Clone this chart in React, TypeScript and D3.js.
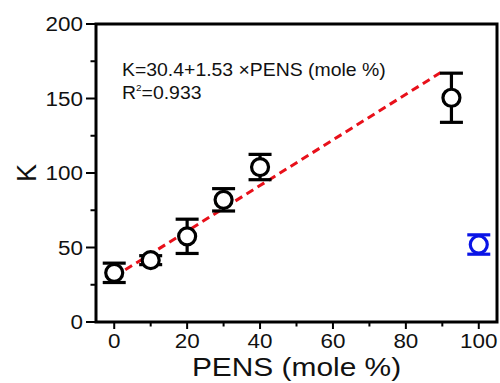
import React from "react";
import * as d3 from "d3";

// PENS content (mole %)
const pens = [0, 10, 20, 30, 40, 92.5];
const kValues = [33, 41.5, 57.5, 82, 104, 150.5];
const kErrors = [6.5, 3, 11.5, 7.5, 8.5, 16.5];

// outlier point, drawn in blue
const bluePens = [100];
const blueK = [52];
const blueErr = [6.5];

// linear fit K = 30.4 + 1.53 * PENS
const fitIntercept = 30.4;
const fitSlope = 1.53;
const fitRange = [0, 90];

const xMajor = [0, 20, 40, 60, 80, 100];
const xMinor = [10, 30, 50, 70, 90];
const yMajor = [0, 50, 100, 150, 200];
const yMinor = [25, 75, 125, 175];

const W = 500;
const H = 383;
const margin = { top: 24, right: 3, bottom: 61, left: 96 };

const font = "Arial, 'Liberation Sans', sans-serif";
// the original picture is a little stretched sideways
const sx = 1.15;

export default function App() {
  const x = d3
    .scaleLinear()
    .domain([-5, 105])
    .range([margin.left, W - margin.right]);
  const y = d3
    .scaleLinear()
    .domain([0, 200])
    .range([H - margin.bottom, margin.top]);

  const fitLine = d3
    .line<number>()
    .x((d) => x(d))
    .y((d) => y(fitIntercept + fitSlope * d));

  const r = 8.5;
  const capHalf = 11.5;

  const marker = (px: number, val: number, err: number, color: string, key: string) => (
    <g key={key} stroke={color} strokeWidth={3.2} fill="none">
      <line x1={x(px)} x2={x(px)} y1={y(val + err)} y2={y(val - err)} />
      <line x1={x(px) - capHalf} x2={x(px) + capHalf} y1={y(val + err)} y2={y(val + err)} />
      <line x1={x(px) - capHalf} x2={x(px) + capHalf} y1={y(val - err)} y2={y(val - err)} />
      <circle cx={x(px)} cy={y(val)} r={r} fill="white" />
    </g>
  );

  const x0 = x.range()[0];
  const x1 = x.range()[1];
  const yb = y.range()[0];
  const yt = y.range()[1];

  const stretched = (tx: number, ty: number) => `translate(${tx},${ty}) scale(${sx},1)`;

  return (
    <svg
      width={W}
      height={H}
      style={{ position: "absolute", left: 0, top: 0, background: "white" }}
      fontFamily={font}
    >
      {/* tick marks */}
      <g stroke="black" strokeWidth={2}>
        {xMajor.map((t) => (
          <line key={"xM" + t} x1={x(t)} x2={x(t)} y1={yb} y2={yb + 7} />
        ))}
        {xMinor.map((t) => (
          <line key={"xm" + t} x1={x(t)} x2={x(t)} y1={yb} y2={yb + 4.5} />
        ))}
        {yMajor.map((t) => (
          <line key={"yM" + t} x1={x0} x2={x0 - 10} y1={y(t)} y2={y(t)} />
        ))}
        {yMinor.map((t) => (
          <line key={"ym" + t} x1={x0} x2={x0 - 5.5} y1={y(t)} y2={y(t)} />
        ))}
      </g>

      {/* tick labels */}
      <g fontSize={19.5} fill="#111">
        {xMajor.map((t) => (
          <text key={"xl" + t} transform={stretched(x(t), yb + 26)} textAnchor="middle">
            {t}
          </text>
        ))}
        {yMajor.map((t) => (
          <text key={"yl" + t} transform={stretched(x0 - 13, y(t) + 7)} textAnchor="end">
            {t}
          </text>
        ))}
      </g>

      {/* axis titles */}
      <text
        transform={stretched((x0 + x1) / 2, 376)}
        fontSize={26}
        textAnchor="middle"
        fill="#111"
      >
        PENS (mole %)
      </text>
      <text
        transform={`translate(36, ${y(100)}) rotate(-90)`}
        fontSize={27}
        textAnchor="middle"
        fill="#111"
      >
        K
      </text>

      {/* fit line */}
      <path
        d={fitLine(fitRange) || ""}
        stroke="#e8101a"
        strokeWidth={3}
        strokeDasharray="8,5"
        fill="none"
      />

      {/* data points */}
      {pens.map((p, i) => marker(p, kValues[i], kErrors[i], "black", "k" + i))}
      {bluePens.map((p, i) => marker(p, blueK[i], blueErr[i], "#0a14e6", "b" + i))}

      {/* equation */}
      <text transform={`translate(122,76) scale(1.11,1)`} fontSize={17.5} fill="#111">
        K=30.4+1.53 ×PENS (mole %)
      </text>
      <text transform={`translate(122,99) scale(1.11,1)`} fontSize={17.5} fill="#111">
        R<tspan fontSize={9} dy={-8}>2</tspan>
        <tspan dy={8}>=0.933</tspan>
      </text>

      {/* frame */}
      <rect x={x0} y={yt} width={x1 - x0} height={yb - yt} fill="none" stroke="black" strokeWidth={3} />
    </svg>
  );
}
